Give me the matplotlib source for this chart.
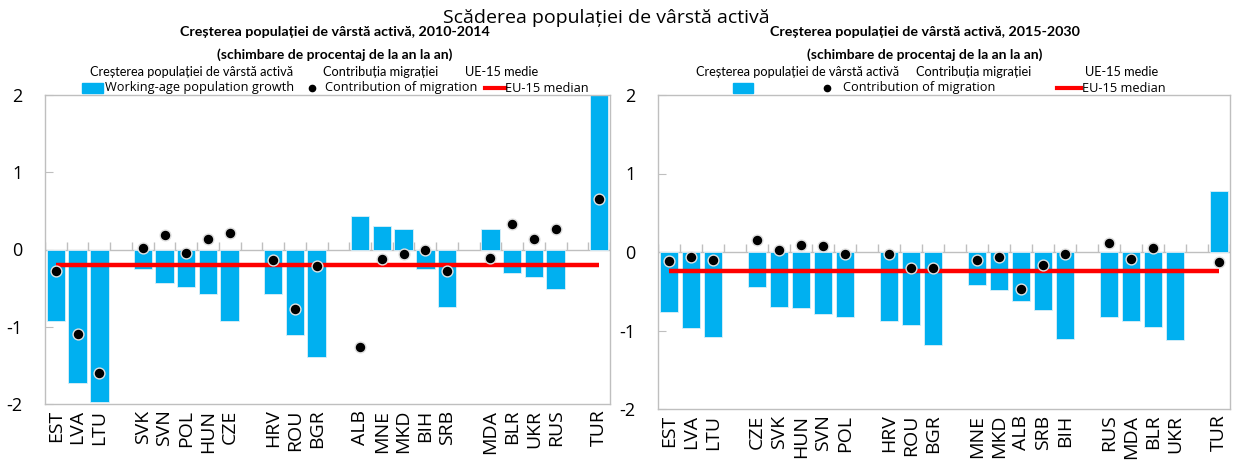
import matplotlib
matplotlib.use("Agg")
import matplotlib.pyplot as plt
from matplotlib.patches import Rectangle
from matplotlib.lines import Line2D
import numpy as np

plt.rcParams['font.family'] = ['Open Sans', 'DejaVu Sans']

# ---------------- data ----------------
left_groups = [["EST", "LVA", "LTU"],
               ["SVK", "SVN", "POL", "HUN", "CZE"],
               ["HRV", "ROU", "BGR"],
               ["ALB", "MNE", "MKD", "BIH", "SRB"],
               ["MDA", "BLR", "UKR", "RUS"],
               ["TUR"]]
left_growth = [-0.93, -1.73, -1.97,
               -0.25, -0.44, -0.48, -0.57, -0.92,
               -0.57, -1.11, -1.39,
               0.43, 0.31, 0.26, -0.25, -0.75,
               0.27, -0.31, -0.36, -0.51,
               2.3]
left_migration = [-0.28, -1.10, -1.60,
                  0.02, 0.19, -0.04, 0.13, 0.21,
                  -0.14, -0.77, -0.22,
                  -1.26, -0.12, -0.06, 0.0, -0.28,
                  -0.11, 0.33, 0.13, 0.27,
                  0.66]
left_median = -0.20

right_groups = [["EST", "LVA", "LTU"],
                ["CZE", "SVK", "HUN", "SVN", "POL"],
                ["HRV", "ROU", "BGR"],
                ["MNE", "MKD", "ALB", "SRB", "BIH"],
                ["RUS", "MDA", "BLR", "UKR"],
                ["TUR"]]
right_growth = [-0.76, -0.97, -1.08,
                -0.45, -0.70, -0.71, -0.79, -0.83,
                -0.88, -0.93, -1.18,
                -0.42, -0.48, -0.62, -0.74, -1.11,
                -0.83, -0.88, -0.96, -1.12,
                0.78]
right_migration = [-0.12, -0.06, -0.10,
                   0.15, 0.02, 0.09, 0.08, -0.03,
                   -0.02, -0.21, -0.20,
                   -0.10, -0.06, -0.47, -0.16, -0.02,
                   0.12, -0.09, 0.05, np.nan,
                   -0.13]
right_median = -0.24

title = "Scăderea populației de vârstă activă"
left_sub = ["Creșterea populației de vârstă activă, 2010-2014",
            "(schimbare de procentaj de la an la an)"]
right_sub = ["Creșterea populației de vârstă activă, 2015-2030",
             "(schimbare de procentaj de la an la an)"]
hdr_labels = ["Creșterea populației de vârstă activă", "Contribuția migrației", "UE-15 medie"]
leg_labels = ["Working-age population growth", "Contribution of migration", "EU-15 median"]

BLUE = "#00B0F0"
GRAY = "#BFBFBF"

W, H = 1236, 466
fig = plt.figure(figsize=(W / 100, H / 100), dpi=100)


def fx(px):
    return px / W


def fy(py):
    return 1 - py / H


def positions(groups):
    pos, labels = [], []
    k = 0
    for g in groups:
        for lab in g:
            pos.append(k)
            labels.append(lab)
            k += 1
        k += 1
    return np.array(pos), labels, k - 1


def draw_panel(ax, groups, growth, migration, median):
    pos, labels, n = positions(groups)
    ax.bar(pos, growth, width=0.85, color=BLUE, edgecolor="#DDEFF8", linewidth=0.6, zorder=2)
    ax.axhline(0, color=GRAY, lw=1, zorder=1)
    ax.vlines(np.arange(-0.5, n + 0.5, 1.0), 0, 0.1, color=GRAY, lw=1, zorder=1)
    ax.plot([pos[0], pos[-1]], [median, median], color="#FF0000", lw=3.2, zorder=3,
            solid_capstyle="butt")
    ax.plot(pos, migration, 'o', color="black", markersize=7.8, markeredgecolor="#E0E0E0",
            markeredgewidth=1, zorder=4, linestyle="none")
    ax.set_xlim(-0.5, n - 0.5)
    ax.set_ylim(-2, 2)
    ax.set_yticks([-2, -1, 0, 1, 2])
    ax.set_yticklabels(["-2", "-1", "0", "1", "2"], fontsize=13)
    ax.tick_params(axis='y', direction='in', length=6, color=GRAY, pad=16)
    ax.set_xticks(pos)
    ax.set_xticklabels(labels, rotation=90, fontsize=14)
    ax.tick_params(axis='x', length=0, pad=4)
    for s in ax.spines.values():
        s.set_color(GRAY)
        s.set_linewidth(1)


axL = fig.add_axes([fx(45), fy(404), fx(610) - fx(45), fy(95) - fy(404)])
axR = fig.add_axes([fx(658), fy(409), fx(1230) - fx(658), fy(95) - fy(409)])
draw_panel(axL, left_groups, left_growth, left_migration, left_median)
draw_panel(axR, right_groups, right_growth, right_migration, right_median)

fig.text(fx(606), fy(18), title, ha='center', va='center', fontsize=14)
for cx, sub in [(335, left_sub), (925, right_sub)]:
    fig.text(fx(cx), fy(32), sub[0], ha='center', va='center', fontsize=10.3,
             fontweight='bold', family=['Lato', 'DejaVu Sans'])
    fig.text(fx(cx), fy(55), sub[1], ha='center', va='center', fontsize=10,
             fontweight='bold', family=['Lato', 'DejaVu Sans'])

HDR_KW = dict(ha='center', va='center', fontsize=9.2, family=['Lato', 'DejaVu Sans'])
LEG_KW = dict(ha='left', va='center', fontsize=9.2)


def legend(hdr_x, patch_x, patch_label_x, dot_x, dot_label_x, line_x, line_label_x, show_growth_label):
    for x, t in zip(hdr_x, hdr_labels):
        fig.text(fx(x), fy(72), t, **HDR_KW)
    fig.patches.append(Rectangle((fx(patch_x[0]), fy(93)), fx(patch_x[1] - patch_x[0]), fy(83) - fy(93),
                                 transform=fig.transFigure, color=BLUE))
    if show_growth_label:
        fig.text(fx(patch_label_x), fy(88), leg_labels[0], **LEG_KW)
    fig.lines.append(Line2D([fx(dot_x)], [fy(88)], marker='o', color='black', markersize=4.5,
                            transform=fig.transFigure))
    fig.text(fx(dot_label_x), fy(88), leg_labels[1], **LEG_KW)
    fig.lines.append(Line2D([fx(line_x[0]), fx(line_x[1])], [fy(88), fy(88)], color='#FF0000', lw=3,
                            transform=fig.transFigure))
    fig.text(fx(line_label_x), fy(88), leg_labels[2], **LEG_KW)


legend([192, 381, 502], (82, 103), 105, 312, 325, (485, 505), 505, True)
legend([798, 974, 1122], (733, 753), 0, 827, 843, (1057, 1081), 1082, False)

fig.savefig("out.png", dpi=100)
